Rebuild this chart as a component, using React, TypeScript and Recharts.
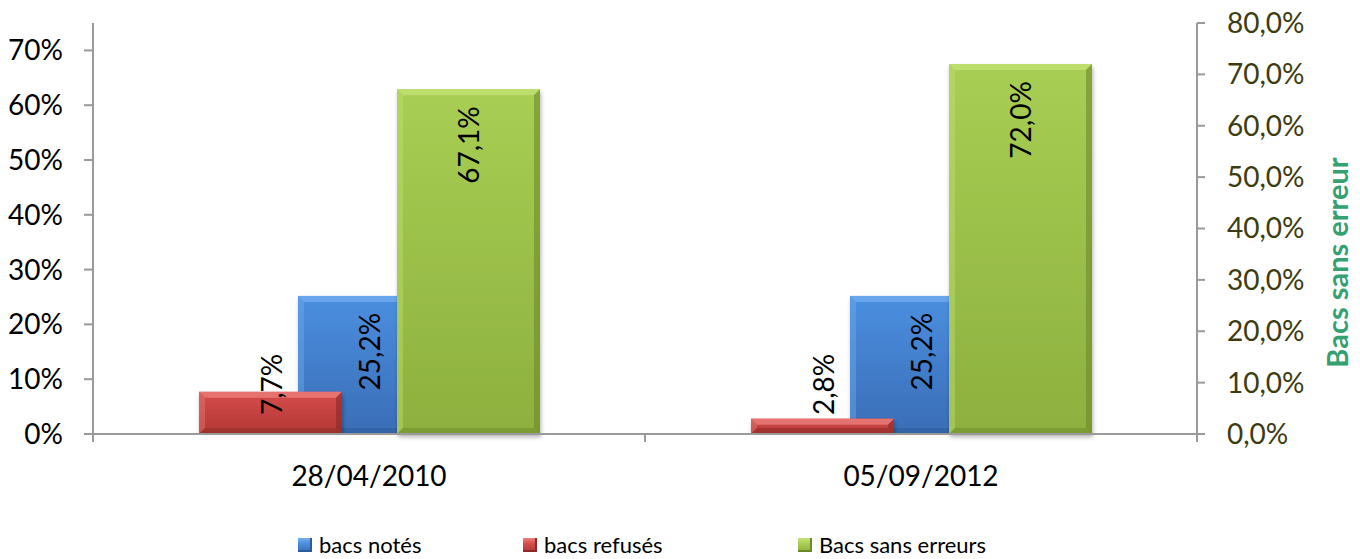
import React from 'react';
import { BarChart, Bar, XAxis, YAxis, LabelList } from 'recharts';

const categories = ['28/04/2010', '05/09/2012'];
const bacsNotes = [0.252, 0.252];
const bacsRefuses = [0.077, 0.028];
const bacsSansErreurs = [0.671, 0.72];
const leftTicks = [0, 0.1, 0.2, 0.3, 0.4, 0.5, 0.6, 0.7];
const rightTicks = [0, 0.1, 0.2, 0.3, 0.4, 0.5, 0.6, 0.7, 0.8];
const legendNames = ['bacs notés', 'bacs refusés', 'Bacs sans erreurs'];

const data = categories.map((date, i) => ({
  date,
  notes: bacsNotes[i],
  refuses: bacsRefuses[i],
  sansErreurs: bacsSansErreurs[i],
}));

const W = 1360;
const H = 559;
const LEFT_W = 93;
const RIGHT_W = 163;
const FONT = 'Lato, "Open Sans", sans-serif';

const palette = {
  blue: { top: '#4b8fe0', bottom: '#3a6db6', light: '#74aef0', dark: '#2c5b98' },
  red: { top: '#d54d4b', bottom: '#b33735', light: '#ec807e', dark: '#8c2826' },
  green: { top: '#a8ce54', bottom: '#8db03e', light: '#c4e276', dark: '#6a8a2a' },
};

const pctLeft = (v: number) => `${Math.round(v * 100)}%`;
const pctRight = (v: number) => `${(v * 100).toFixed(1).replace('.', ',')}%`;

const bevelShape = (key: keyof typeof palette) => (props: any) => {
  const { x, y, width, height } = props;
  if (!height || height <= 0) return <g />;
  const c = palette[key];
  const b = Math.min(6, height / 2, width / 2);
  const x2 = x + width;
  const y2 = y + height;
  return (
    <g filter="url(#barShadow)">
      <rect x={x} y={y} width={width} height={height} fill={`url(#grad-${key})`} />
      <polygon points={`${x},${y} ${x2},${y} ${x2 - b},${y + b} ${x + b},${y + b}`} fill={c.light} opacity={0.75} />
      <polygon points={`${x},${y} ${x + b},${y + b} ${x + b},${y2 - b} ${x},${y2}`} fill={c.light} opacity={0.4} />
      <polygon points={`${x2},${y} ${x2},${y2} ${x2 - b},${y2 - b} ${x2 - b},${y + b}`} fill={c.dark} opacity={0.6} />
      <polygon points={`${x},${y2} ${x + b},${y2 - b} ${x2 - b},${y2 - b} ${x2},${y2}`} fill={c.dark} opacity={0.5} />
    </g>
  );
};

const barLabel = (props: any) => {
  const { x, y, width, height, value } = props;
  const cx = x + width / 2;
  const short = height < 100;
  const ty = short ? y + height - 19 : y + 17;
  return (
    <text
      x={cx}
      y={ty}
      transform={`rotate(-90 ${cx} ${ty})`}
      textAnchor={short ? 'start' : 'end'}
      dominantBaseline="central"
      fontSize={28}
      fontFamily={FONT}
      fill="#000"
    >
      {pctRight(value)}
    </text>
  );
};

const bandWidth = (W - LEFT_W - RIGHT_W) / categories.length;

const DateTick = (props: any) => {
  const { x, y, payload, index } = props;
  return (
    <g>
      <line x1={x - bandWidth / 2} y1={y} x2={x - bandWidth / 2} y2={y + 8} stroke="#9a9a9a" strokeWidth={2} />
      {index === categories.length - 1 && (
        <line x1={x + bandWidth / 2} y1={y} x2={x + bandWidth / 2} y2={y + 8} stroke="#9a9a9a" strokeWidth={2} />
      )}
      <text x={x} y={y + 41} textAnchor="middle" dominantBaseline="central" fontSize={28} fontFamily={FONT} fill="#000">
        {payload.value}
      </text>
    </g>
  );
};

const RightTitle = (props: any) => {
  const { viewBox } = props;
  const tx = viewBox.x + viewBox.width - 24;
  const ty = viewBox.y + viewBox.height / 2 + 34;
  return (
    <text
      x={tx}
      y={ty}
      transform={`rotate(-90 ${tx} ${ty})`}
      textAnchor="middle"
      dominantBaseline="central"
      fontSize={29}
      fontWeight="bold"
      fontFamily={FONT}
      fill="#35a071"
    >
      Bacs sans erreur
    </text>
  );
};

const legendColors = [palette.blue, palette.red, palette.green];
const legendLefts = [298, 523, 798];

export default function App() {
  return (
    <div style={{ position: 'absolute', left: 0, top: 0, width: W, height: H, fontFamily: FONT, background: '#fff', overflow: 'hidden' }}>
      <BarChart
        width={W}
        height={H}
        data={data}
        margin={{ top: 23, right: 0, bottom: 0, left: 0 }}
        barSize={143}
        barGap={-44}
      >
        <defs>
          {(Object.keys(palette) as (keyof typeof palette)[]).map((k) => (
            <linearGradient key={k} id={`grad-${k}`} x1="0" y1="0" x2="0" y2="1">
              <stop offset="0%" stopColor={palette[k].top} />
              <stop offset="100%" stopColor={palette[k].bottom} />
            </linearGradient>
          ))}
          <filter id="barShadow" x="-10%" y="-10%" width="130%" height="130%">
            <feDropShadow dx="1" dy="3" stdDeviation="2" floodColor="#000" floodOpacity="0.3" />
          </filter>
        </defs>
        <XAxis
          dataKey="date"
          height={125}
          tickLine={false}
          tickSize={0}
          tickMargin={0}
          axisLine={{ stroke: '#9a9a9a', strokeWidth: 2 }}
          tick={<DateTick />}
        />
        <YAxis
          yAxisId="left"
          width={LEFT_W}
          domain={[0, 0.75]}
          ticks={leftTicks}
          tickFormatter={pctLeft}
          tickSize={9}
          tickMargin={21}
          axisLine={{ stroke: '#9a9a9a', strokeWidth: 2 }}
          tickLine={{ stroke: '#9a9a9a', strokeWidth: 2 }}
          tick={{ fontSize: 28, fontFamily: FONT, fill: '#000' }}
          allowDataOverflow
        />
        <YAxis
          yAxisId="right"
          orientation="right"
          width={RIGHT_W}
          domain={[0, 0.8]}
          ticks={rightTicks}
          tickFormatter={pctRight}
          tickSize={8}
          tickMargin={22}
          axisLine={{ stroke: '#9a9a9a', strokeWidth: 2 }}
          tickLine={{ stroke: '#9a9a9a', strokeWidth: 2 }}
          tick={{ fontSize: 28, fontFamily: FONT, fill: '#3c3c10' }}
          label={<RightTitle />}
        />
        <Bar dataKey="refuses" name={legendNames[1]} yAxisId="left" shape={bevelShape('red')} isAnimationActive={false} zIndex={320}>
          <LabelList dataKey="refuses" content={barLabel} />
        </Bar>
        <Bar dataKey="notes" name={legendNames[0]} yAxisId="left" shape={bevelShape('blue')} isAnimationActive={false} zIndex={300}>
          <LabelList dataKey="notes" content={barLabel} />
        </Bar>
        <Bar dataKey="sansErreurs" name={legendNames[2]} yAxisId="right" shape={bevelShape('green')} isAnimationActive={false} zIndex={330}>
          <LabelList dataKey="sansErreurs" content={barLabel} />
        </Bar>
      </BarChart>
      {legendNames.map((name, i) => (
        <div
          key={name}
          style={{
            position: 'absolute',
            left: legendLefts[i],
            top: 534,
            height: 22,
            lineHeight: '22px',
            display: 'flex',
            alignItems: 'center',
            fontSize: 22,
            color: '#000',
            whiteSpace: 'nowrap',
          }}
        >
          <span
            style={{
              display: 'inline-block',
              width: 14,
              height: 14,
              marginRight: 7,
              background: `linear-gradient(${legendColors[i].light}, ${legendColors[i].top} 40%, ${legendColors[i].bottom})`,
              boxShadow: `inset -2px -2px 0 ${legendColors[i].dark}`,
            }}
          />
          {name}
        </div>
      ))}
    </div>
  );
}
